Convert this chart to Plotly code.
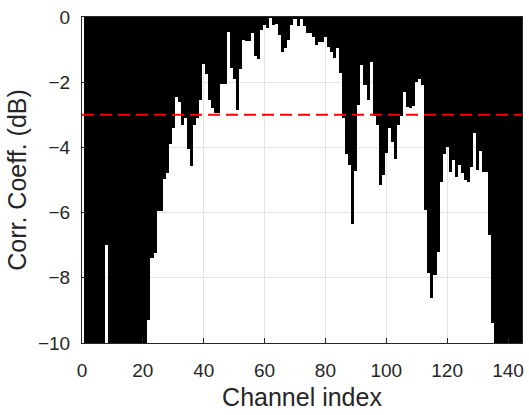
import plotly.graph_objects as go

channels = list(range(1, 145))

corr_db = [
    # 1-10
    -12, -12, -12, -12, -12, -12, -12, -7.0, -12, -12,
    # 11-20
    -12, -12, -12, -12, -12, -12, -12, -12, -12, -12,
    # 21-30
    -12, -9.3, -7.4, -7.25, -5.95, -5.95, -4.98, -4.8, -3.9, -3.4,
    # 31-40
    -2.45, -2.62, -3.3, -3.1, -4.06, -4.56, -3.3, -3.1, -2.55, -1.45,
    # 41-50
    -1.75, -2.55, -2.8, -2.95, -2.95, -2.05, -2.05, -0.47, -1.55, -1.9,
    # 51-60
    -2.85, -1.6, -0.7, -0.75, -0.75, -0.5, -1.2, -1.3, -0.4, -0.25,
    # 61-70
    -0.35, -0.02, -0.25, -0.2, -0.55, -1.06, -0.96, -0.7, -0.25, -0.05,
    # 71-80
    -0.28, -0.05, -0.28, -0.5, -0.5, -0.6, -0.86, -0.76, -0.76, -0.6,
    # 81-90
    -0.92, -1.06, -1.27, -0.96, -1.73, -3.1, -4.2, -4.55, -6.35, -4.73,
    # 91-100
    -2.7, -1.47, -2.1, -2.55, -1.37, -3.05, -3.3, -5.15, -4.85, -4.18,
    # 101-110
    -3.4, -3.82, -4.36, -3.3, -3.05, -2.29, -2.75, -2.8, -2.72, -1.98,
    # 111-120
    -1.9, -2.1, -5.92, -7.86, -8.63, -7.9, -7.2, -5.05, -4.2, -4.0,
    # 121-130
    -4.75, -4.38, -4.9, -4.54, -4.8, -5.0, -5.05, -4.6, -3.57, -4.7,
    # 131-140
    -4.1, -4.75, -4.75, -6.7, -9.4, -12, -12, -12, -12, -12,
    # 141-144
    -12, -12, -12, -12,
]

threshold_db = -3
x_range = [0, 144.6]
y_range = [-10, 0]
x_ticks = [0, 20, 40, 60, 80, 100, 120, 140]
y_ticks = [0, -2, -4, -6, -8, -10]

axis_color = "#262626"
grid_color = "#e3e3e3"
font_family = "Liberation Sans, Arial, sans-serif"

fig = go.Figure()
fig.add_trace(go.Bar(
    x=channels, y=corr_db, width=1,
    marker=dict(color="black", line=dict(width=0)),
    showlegend=False,
))
fig.add_trace(go.Scatter(
    x=x_range, y=[threshold_db, threshold_db], mode="lines",
    line=dict(color="#ff0000", width=2, dash="12px,6px"),
    showlegend=False,
))

fig.update_layout(
    width=529, height=415,
    margin=dict(l=82, r=5, t=17, b=72),
    paper_bgcolor="white", plot_bgcolor="white",
    bargap=0,
    font=dict(family=font_family, color=axis_color, size=18),
)
fig.update_xaxes(
    range=x_range, tickvals=x_ticks, ticks="inside", ticklen=5,
    tickcolor=axis_color, showline=True, linecolor=axis_color, linewidth=1,
    mirror=True, showgrid=True, gridcolor=grid_color, zeroline=False,
    tickfont=dict(size=19), ticklabelstandoff=10,
    title=dict(text="Channel index", font=dict(size=25), standoff=8),
)
fig.update_yaxes(
    range=y_range, tickvals=y_ticks, ticks="inside", ticklen=5,
    tickcolor=axis_color, showline=True, linecolor=axis_color, linewidth=1,
    mirror=True, showgrid=True, gridcolor=grid_color, zeroline=False,
    tickfont=dict(size=19), ticklabelstandoff=7,
    title=dict(text="Corr. Coeff. (dB)", font=dict(size=25), standoff=4),
)

fig.write_html("out.html")
